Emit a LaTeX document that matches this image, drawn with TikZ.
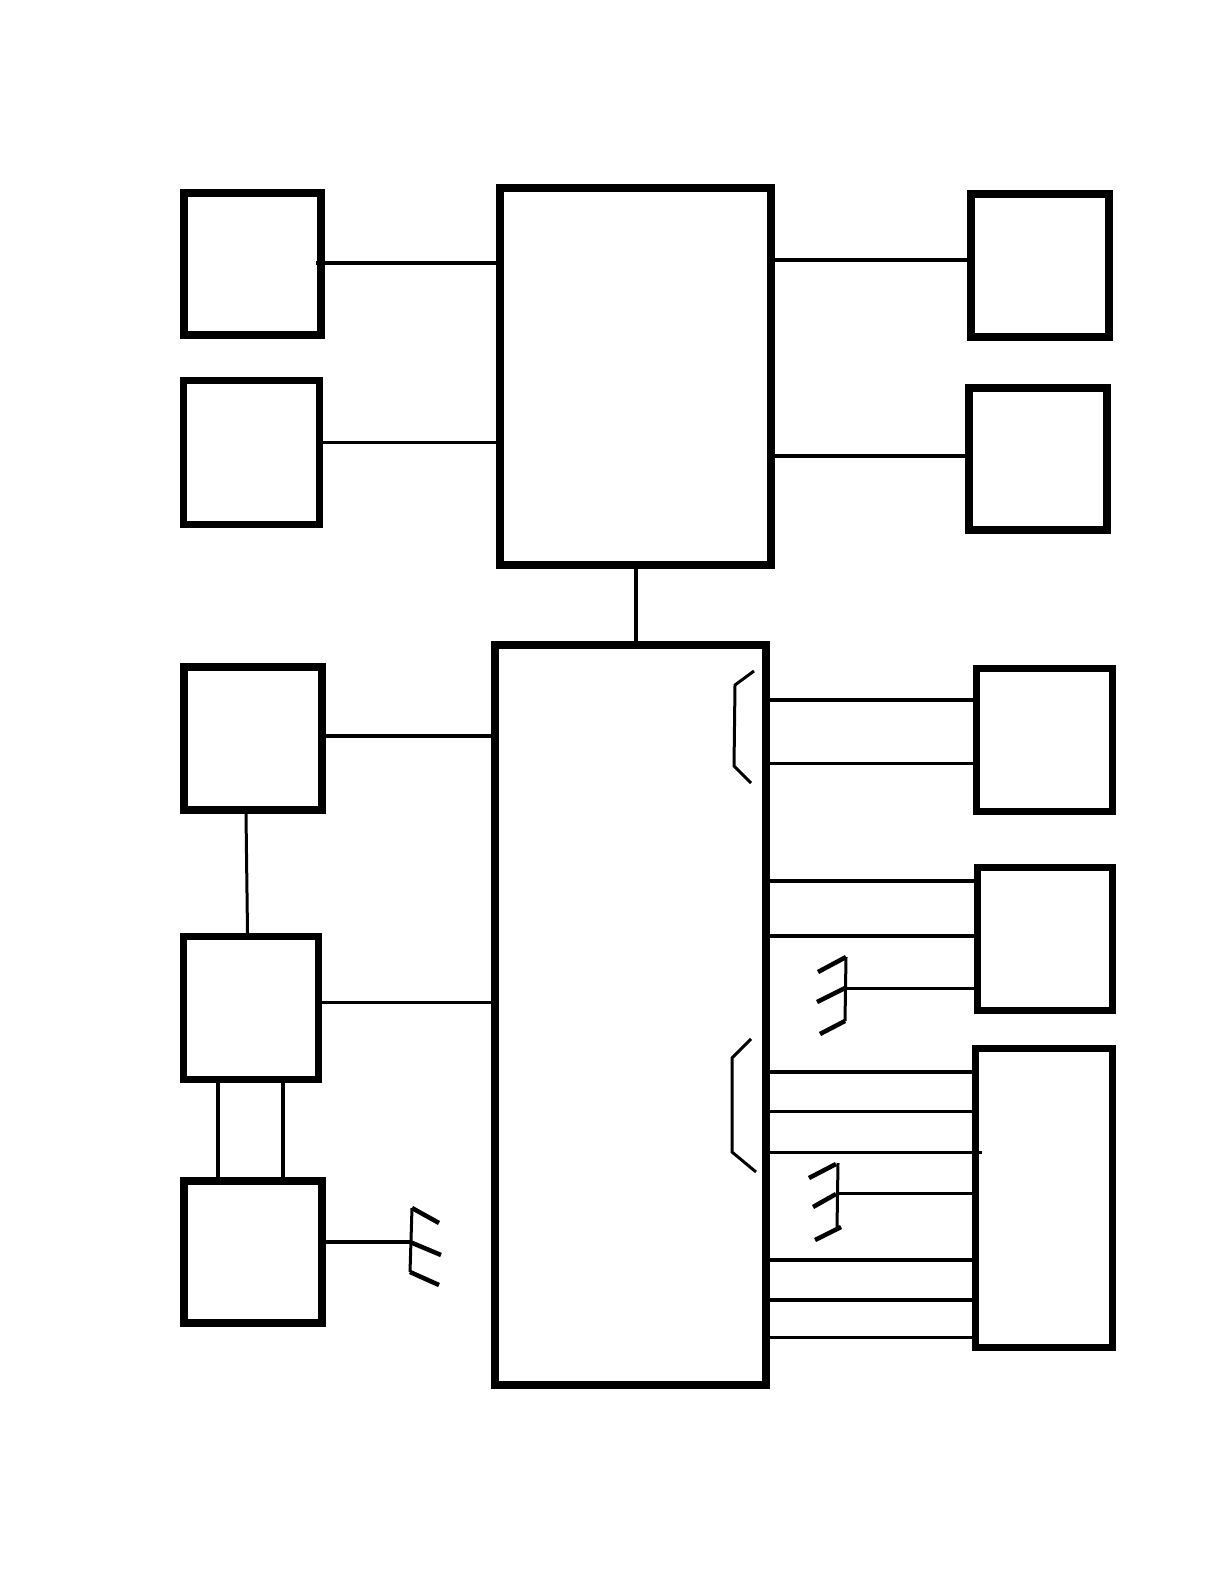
\documentclass[tikz,border=0pt]{standalone}
\usepackage{tikz}
\usetikzlibrary{positioning}

\begin{document}
\begin{tikzpicture}[
  x=0.02cm, y=-0.02cm,
  blockbox/.style={rectangle, draw=black, line width=0.16cm, inner sep=0pt},
  boxsize/.style 2 args={minimum width=#1*0.02cm, minimum height=#2*0.02cm},
  wire/.style={black, line width=0.08cm},
  thinwire/.style={black, line width=0.06cm},
  tick/.style={black, line width=0.09cm}
]
\useasboundingbox (0,0) rectangle (1222,1584);

% === Central blocks ===
\node[blockbox, boxsize={271}{377}] (host) at (635.5, 376.5) {};
\node[blockbox, boxsize={271.5}{740}] (mcu) at (630.25, 1015) {};

% === Left column (top to bottom) ===
\node[blockbox, boxsize={137.5}{142}] (lefta) at (252.25, 264) {};
\node[blockbox, line width=0.14cm, boxsize={136}{144}] (leftb) at (251.5, 452.5) {};
\node[blockbox, boxsize={138}{143}] (leftc) at (253, 738.5) {};
\node[blockbox, line width=0.14cm, boxsize={135}{143}] (leftd) at (251, 1008) {};
\node[blockbox, boxsize={138}{142}] (lefte) at (253, 1252) {};

% === Right column (top to bottom) ===
\node[blockbox, boxsize={138}{142.5}] (righta) at (1040, 265.75) {};
\node[blockbox, boxsize={138}{142}] (rightb) at (1038, 459) {};
\node[blockbox, line width=0.14cm, boxsize={136}{143}] (rightc) at (1044.5, 740) {};
\node[blockbox, line width=0.14cm, boxsize={135}{143}] (rightd) at (1045, 939) {};
\node[blockbox, line width=0.14cm, boxsize={137}{299}] (righte) at (1044, 1198) {};

% === Free ends ===
\coordinate (stuba) at (316, 263);
\coordinate (stube) at (982, 1152);
\coordinate (antenc) at (410, 1242);
\coordinate (antend) at (846, 988);
\coordinate (antene) at (838, 1193);

% === Wires, left side ===
\draw[wire] (stuba) -- (host.west |- stuba);
\draw[thinwire] (leftb.east |- 0,442) -- (host.west |- 0,442);
\draw[wire] (leftc.east |- 0,736) -- (mcu.west |- 0,736);
\draw[thinwire] (leftd.east |- 0,1002) -- (mcu.west |- 0,1002);
\draw[thinwire] (leftc.south -| 246,0) -- (leftd.north -| 247.5,0);
\foreach \x in {218, 283}
  \draw[wire] (leftd.south -| \x,0) -- (lefte.north -| \x,0);
\draw[wire] (lefte.east |- antenc) -- (antenc);

% === Wires, centre and right side ===
\draw[wire] (host.south -| 636,0) -- (mcu.north -| 636,0);
\draw[wire] (host.east |- 0,260) -- (righta.west |- 0,260);
\draw[wire] (host.east |- 0,456) -- (rightb.west |- 0,456);
\draw[wire] (mcu.east |- 0,700) -- (rightc.west |- 0,700);
\draw[thinwire] (mcu.east |- 0,763.5) -- (rightc.west |- 0,763.5);
\foreach \y in {881, 936}
  \draw[wire] (mcu.east |- 0,\y) -- (rightd.west |- 0,\y);
\draw[thinwire] (antend) -- (rightd.west |- antend);
\foreach \y in {1072, 1260, 1300}
  \draw[wire] (mcu.east |- 0,\y) -- (righte.west |- 0,\y);
\foreach \y in {1111, 1337}
  \draw[thinwire] (mcu.east |- 0,\y) -- (righte.west |- 0,\y);
\draw[thinwire] (mcu.east |- stube) -- (stube);
\draw[thinwire] (antene) -- (righte.west |- antene);

% === Brackets ===
\draw[thinwire] (754,671) -- (735,685) -- (734,766) -- (751,783);
\draw[thinwire] (751,1039) -- (732,1058) -- (732,1152) -- (756,1172);

% === Antennas ===
\draw[thinwire] (412,1208) -- (410,1272);
\draw[tick] (412,1208) -- (439,1223);
\draw[tick] (antenc) -- (441,1255);
\draw[tick] (410,1272) -- (439,1285);

\draw[thinwire] (846,957) -- (845,1021);
\draw[tick] (846,957) -- (818,972);
\draw[tick] (845,988) -- (817,1002);
\draw[tick] (845,1021) -- (820,1034);

\draw[thinwire] (838,1163) -- (837,1228);
\draw[tick] (836,1164) -- (809,1178);
\draw[tick] (836,1194) -- (813,1207);
\draw[tick] (841,1227) -- (815,1240);

\end{tikzpicture}
\end{document}
